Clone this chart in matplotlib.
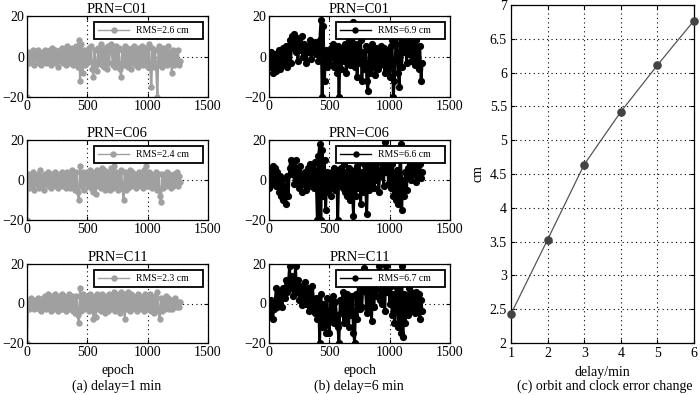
import matplotlib
matplotlib.use("Agg")
import matplotlib.pyplot as plt
import numpy as np

plt.rcParams['font.family'] = ['Liberation Serif', 'DejaVu Serif']
plt.rcParams['mathtext.fontset'] = 'stix'

step = 10
epochs = np.arange(0, 1280, step)

c01_d1 = [-20, 2, -3, 1, -2, 3, -4, 2, -1, 3,
          -3, 1, -4, 2, -2, 3, -3, 1, -2, 3,
          -4, 4, -2, 3, -3, 2, -5, 3, -2, 4,
          -3, 2, -4, 5, -2, 3, -3, 4, -4, 2,
          -3, 5, -5, 8, -12, 6, -8, 3, -4, 2,
          -3, 4, -2, 5, -6, -10, 3, -4, -7, 4,
          -3, 6, -4, 3, -5, 4, -6, 5, -3, 4,
          6, -4, 3, -5, 5, -3, 4, -6, -10, 3,
          -4, 5, -3, 4, -5, 3, -6, 4, -3, 5,
          -4, 3, -5, 4, -3, 5, -4, 3, -3, 4,
          -5, 6, -4, -15, 4, -5, 3, -4, -20, 5,
          -4, 3, -5, 4, -3, 3, -4, 5, -3, 2,
          -8, 3, -4, 2, -3, 3, -4, -2]

c01_d6 = [0, -5, 2, -8, -3, 1, -7, -2, 3, -6,
          2, -4, 4, -2, 5, -5, 3, 8, -3, 10,
          4, 11, 2, 9, -2, 7, 3, 10, 0, 6,
          4, -3, 5, 2, 8, -1, 6, 3, 7, 1,
          5, -2, 8, 18, -20, 15, -12, 3, -5, 2,
          -3, 4, 0, 6, -5, 3, -8, 5, -20, 2,
          -6, 4, -2, 6, -8, 3, 8, -4, 5, -2,
          17, -5, 6, -10, 4, -3, 8, -12, 2, -6,
          5, -12, -17, 3, -8, 6, -5, 2, -9, 4,
          -6, 3, -4, 5, -3, 4, -8, 2, -5, 3,
          -10, 5, 8, -20, -12, 6, 10, -8, -15, 9,
          -5, 7, 2, 9, -3, 6, 1, 8, -2, 10,
          4, -4, 8, 2, -6, 5, -12, -3]

c06_d1 = [-20, 3, -4, 2, -3, 4, -5, 2, -2, 3,
          -4, 5, -3, 2, -5, 3, -2, 4, -3, 2,
          -4, 3, -2, 4, -3, 2, -4, 3, -2, 4,
          -3, 2, -4, 4, -2, 3, -4, 5, -3, 3,
          -5, 4, -6, -10, 7, -3, 4, -5, 3, -2,
          4, -3, 5, -4, 3, -6, 4, -7, 5, -3,
          4, -4, 6, -3, 5, -5, 4, -4, 3, -5,
          6, -4, 7, -3, 4, -5, 3, -4, 5, -3,
          -10, 4, -5, 3, -4, 5, -3, 4, -2, 3,
          -4, 3, -3, 4, -2, 3, -4, 5, -3, 7,
          -3, 4, -2, 3, -4, 2, -3, 4, -5, 3,
          -8, -11, 3, -4, 2, -3, 4, -2, 3, -4,
          2, -3, 3, -2, 4, -3, 2, -1]

c06_d6 = [-4, 5, -2, 7, 0, 6, -3, 4, -6, 2,
          -8, 0, -10, -3, -12, 2, -8, 6, 10, 3,
          8, -2, 10, 0, 5, -4, 7, -6, 3, -2,
          4, -5, 6, -3, 8, -2, 5, -4, 9, 2,
          -20, 12, 18, -20, 15, -8, 10, -15, 4, -6,
          2, -8, 4, -3, 6, -5, 3, -20, 5, -2,
          6, -4, 8, -6, 4, -8, 6, -10, 3, -5,
          -18, 5, -8, 7, -4, 9, -12, 4, -6, 8,
          -3, -17, 6, -5, 8, -2, 10, -4, 7, 0,
          9, -6, 5, 2, 8, -3, 19, 4, 10, -2,
          6, -4, 8, -8, 3, -10, 5, -12, 2, 18,
          -15, 0, -8, 4, -5, 6, 2, 8, 0, 6,
          3, 7, -1, 5, 2, 8, 1, 4]

c11_d1 = [-20, 2, -3, 3, -2, 1, -3, 2, -2, 3,
          -3, 2, -4, 3, -2, 4, -3, 5, -2, 3,
          -4, 4, -3, 5, -2, 3, -4, 4, -3, 5,
          -3, 4, -4, 3, -2, 5, -3, 4, -4, 3,
          -5, 4, -6, -10, 8, -4, 5, -3, 4, -2,
          3, -4, 5, -3, 4, -8, 3, -7, 5, -3,
          4, -4, 5, -3, 4, -5, 3, -4, 5, -3,
          4, -3, 6, -4, 5, -3, 4, -5, 6, -3,
          5, -8, 4, -3, 6, -4, 5, -3, 4, -2,
          3, -4, 5, -3, 4, -2, 3, -4, 5, -3,
          4, -3, 5, -4, 3, -5, 4, -3, 6, -4,
          -8, 3, -4, 2, -3, 4, -2, 3, -3, 2,
          -3, 2, -2, 3, -2, 1, -2, 1]

c11_d6 = [0, -6, 2, -8, -3, 1, 8, -2, 6, 0,
          5, -2, 8, 3, 12, 6, 10, 19, 8, 14,
          4, 10, 19, 6, 12, 2, 9, -1, 7, 3,
          11, 0, 8, -4, 6, -2, 9, 1, -5, 3,
          -8, 2, -20, 5, -12, 0, -6, -15, 3, -10,
          -15, 2, -8, 4, -10, 1, -6, -12, -20, 2,
          -5, 6, -10, 3, -8, 5, -12, 2, -6, 4,
          -15, -20, 5, -8, 10, -3, 8, -2, 12, 18,
          6, -5, 12, -3, 8, -9, 10, -2, 14, 4,
          8, 19, 2, 12, 0, 10, -4, 19, 6, 12,
          0, 9, -6, 5, -10, 3, 8, -12, 6, -15,
          19, -17, 5, -10, 3, -6, 8, -4, 6, -2,
          4, -5, 6, -3, 5, -8, 2, -4]

prn_titles = ['PRN=C01', 'PRN=C06', 'PRN=C11']
rms_d1 = ['RMS=2.6 cm', 'RMS=2.4 cm', 'RMS=2.3 cm']
rms_d6 = ['RMS=6.9 cm', 'RMS=6.6 cm', 'RMS=6.7 cm']
series_d1 = [c01_d1, c06_d1, c11_d1]
series_d6 = [c01_d6, c06_d6, c11_d6]

delay_min = [1, 2, 3, 4, 5, 6]
rms_cm = [2.43, 3.53, 4.64, 5.42, 6.11, 6.77]

W, H = 700, 395
fig = plt.figure(figsize=(W / 100, H / 100), dpi=100)

def px_axes(l, t, r, b):
    return fig.add_axes([l / W, 1 - b / H, (r - l) / W, (b - t) / H])

rows = [(16, 97), (140, 220), (264, 343)]
cols = [(27, 208), (269, 450)]

FS = 10
grey = '#a0a0a0'

for ci, (l, r) in enumerate(cols):
    for ri, (t, b) in enumerate(rows):
        ax = px_axes(l, t, r, b)
        if ci == 0:
            data, lab, col, ms, lw = series_d1[ri], rms_d1[ri], grey, 4.6, 1.6
        else:
            data, lab, col, ms, lw = series_d6[ri], rms_d6[ri], 'black', 5.2, 2.0
        ax.plot(epochs, data, '-', color=col, lw=lw, zorder=3)
        ax.plot(epochs, data, 'o', color=col, ms=ms,
                markeredgewidth=0, zorder=3)
        ax.plot([], [], '-o', color=col, lw=1.0, ms=4.6,
                markeredgewidth=0, label=lab + '    ')
        ax.set_xlim(0, 1500)
        ax.set_ylim(-20, 20)
        ax.set_xticks([0, 500, 1000, 1500])
        ax.set_yticks([-20, 0, 20])
        ax.set_yticklabels(['\u221220', '0', '20'])
        ax.grid(True, linestyle=(0, (1, 3)), color='black', lw=0.8)
        ax.tick_params(direction='in', top=True, right=True, labelsize=FS,
                       length=3, width=0.8, pad=2)
        for s in ax.spines.values():
            s.set_linewidth(0.9)
            s.set_zorder(4)
        ax.set_title(prn_titles[ri], fontsize=10.5, pad=2)
        leg = ax.legend(loc='upper right', bbox_to_anchor=(0.97, 0.92),
                        fontsize=7, fancybox=False, framealpha=1,
                        edgecolor='black', handlelength=3.2,
                        borderaxespad=0, borderpad=0.4, handletextpad=0.7)
        leg.get_frame().set_linewidth(1.3)
        leg.set_zorder(10)
        if ri == 2:
            ax.set_xlabel('epoch', fontsize=FS, labelpad=4)

# right panel
axr = px_axes(511, 5, 694, 343)
axr.plot(delay_min, rms_cm, '-', color='#555555', lw=0.9)
axr.plot(delay_min, rms_cm, 'o', color='#444444', ms=6.2, markeredgewidth=0,
         clip_on=False, zorder=5)
axr.set_xlim(1, 6)
axr.set_ylim(2, 7)
axr.set_xticks(delay_min)
yt = [2, 2.5, 3, 3.5, 4, 4.5, 5, 5.5, 6, 6.5, 7]
axr.set_yticks(yt)
axr.set_yticklabels([('%g' % v) for v in yt])
axr.grid(True, linestyle=(0, (1, 3)), color='black', lw=0.8)
axr.tick_params(direction='in', top=True, right=True, labelsize=FS,
                length=3, width=0.8, pad=3)
for s in axr.spines.values():
    s.set_linewidth(0.9)
axr.set_xlabel('delay/min', fontsize=FS, labelpad=4)
axr.set_ylabel('cm', fontsize=FS, labelpad=4)

fig.text(117 / W, 1 - 386 / H, '(a) delay=1 min', ha='center', va='center', fontsize=FS)
fig.text(359 / W, 1 - 386 / H, '(b) delay=6 min', ha='center', va='center', fontsize=FS)
fig.text(605 / W, 1 - 386 / H, '(c) orbit and clock error change', ha='center', va='center', fontsize=FS)

fig.savefig('out.png', dpi=100)
